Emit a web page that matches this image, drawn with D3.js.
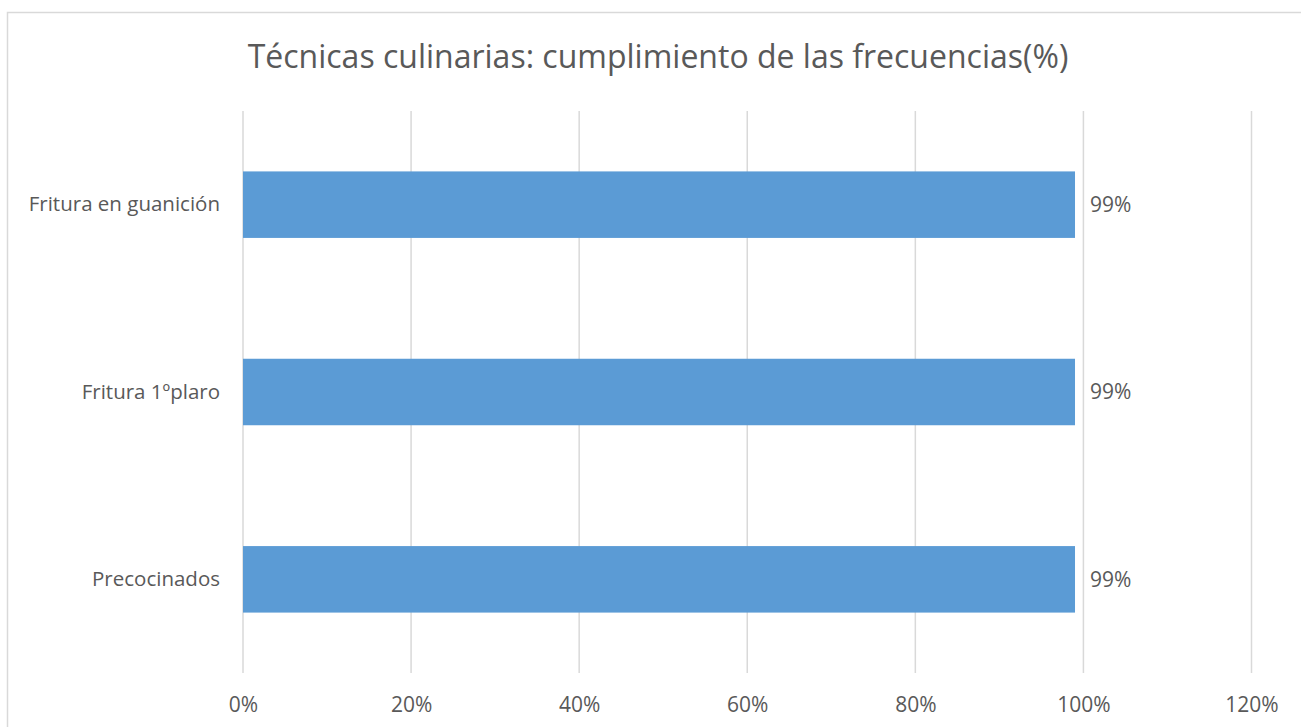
<!DOCTYPE html>
<html>
<head>
<meta charset="utf-8">
<script src="https://cdn.jsdelivr.net/npm/d3@7"></script>
<style>
  body { margin: 0; background: #fff; }
  svg { display: block; font-family: "Open Sans", sans-serif; }
</style>
</head>
<body>
<div class="chart"></div>
<script>
// data
var title = "Técnicas culinarias: cumplimiento de las frecuencias(%)";
var categories = ["Fritura en guanición", "Fritura 1ºplaro", "Precocinados"];
var values = [99, 99, 99];
var valueLabels = ["99%", "99%", "99%"];
var xTicks = [0, 20, 40, 60, 80, 100, 120];

// svg dims
var width = 1301;
var height = 727;
var plotTop = 111;
var plotBottom = 673;
var plotLeft = 243;
var plotRight = 1251.5;
var textColor = "#595959";
var gridColor = "#d9d9d9";

var svg = d3.select(".chart")
            .append("svg")
            .attr("width", width)
            .attr("height", height);

// chart border
svg.append("rect")
   .attr("x", 7.5)
   .attr("y", 12.5)
   .attr("width", 1300)
   .attr("height", 730)
   .attr("fill", "none")
   .attr("stroke", gridColor)
   .attr("stroke-width", 1.5);

// title
svg.append("text")
   .attr("x", 658)
   .attr("y", 68)
   .attr("text-anchor", "middle")
   .attr("fill", textColor)
   .style("font-size", "32px")
   .text(title);

// scales
var xScale = d3.scaleLinear()
               .domain([0, 120])
               .range([plotLeft, plotRight]);
var yScale = d3.scaleBand()
               .domain(categories)
               .range([plotTop, plotBottom])
               .paddingInner(0.645)
               .paddingOuter(0.3225);

// gridlines
svg.append("g")
   .selectAll("line")
   .data(xTicks)
   .enter()
   .append("line")
   .attr("x1", d => xScale(d))
   .attr("x2", d => xScale(d))
   .attr("y1", plotTop)
   .attr("y2", plotBottom)
   .attr("stroke", gridColor)
   .attr("stroke-width", 1.5);

// x axis labels
var xAxis = d3.axisBottom(xScale)
              .tickValues(xTicks)
              .tickFormat(d => d + "%")
              .tickSize(0)
              .tickPadding(24);
var gx = svg.append("g")
            .attr("transform", `translate(0, ${plotBottom})`)
            .call(xAxis);
gx.select(".domain").remove();
gx.selectAll("text")
  .attr("fill", textColor)
  .style("font-size", "21px")
  .style("font-family", "'Open Sans', sans-serif");

// y axis labels
var yAxis = d3.axisLeft(yScale)
              .tickSize(0)
              .tickPadding(23);
var gy = svg.append("g")
            .attr("transform", `translate(${plotLeft}, 0)`)
            .call(yAxis);
gy.select(".domain").remove();
gy.selectAll("text")
  .attr("fill", textColor)
  .style("font-size", "20.5px")
  .style("font-family", "'Open Sans', sans-serif");

// bars
svg.append("g")
   .selectAll("rect")
   .data(categories)
   .enter()
   .append("rect")
   .attr("x", xScale(0))
   .attr("y", d => yScale(d))
   .attr("width", (d, i) => xScale(values[i]) - xScale(0))
   .attr("height", yScale.bandwidth())
   .attr("fill", "#5b9bd5");

// value labels
svg.append("g")
   .selectAll("text")
   .data(categories)
   .enter()
   .append("text")
   .attr("x", (d, i) => xScale(values[i]) + 15)
   .attr("y", d => yScale(d) + yScale.bandwidth() / 2)
   .attr("dy", "0.35em")
   .attr("fill", textColor)
   .style("font-size", "21px")
   .text((d, i) => valueLabels[i]);
</script>
</body>
</html>
